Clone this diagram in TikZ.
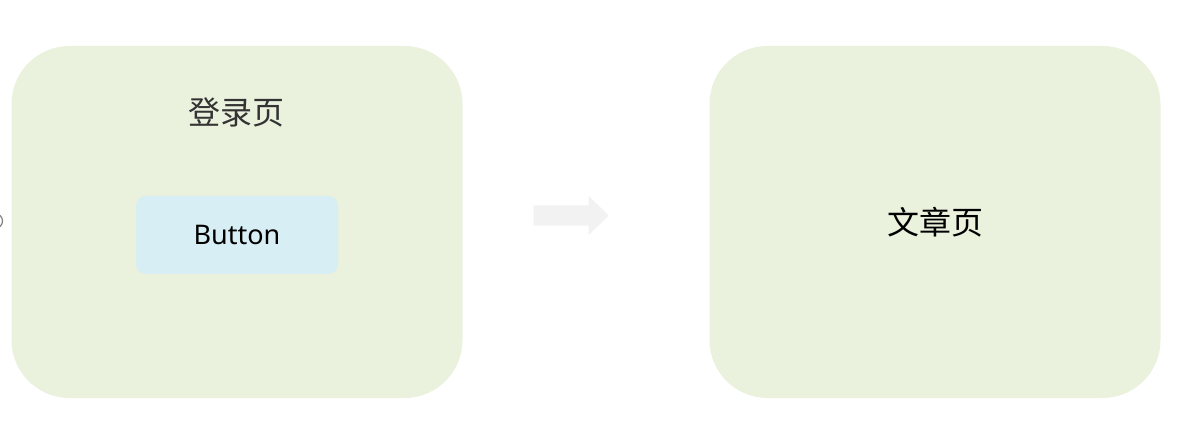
\documentclass[tikz,border=0pt]{standalone}
\usepackage{fontspec}
\setmainfont{Noto Sans}
\newfontfamily\cjk{Noto Sans CJK SC}
\usepackage{xcolor}
\usepackage{tikz}
\usetikzlibrary{shapes,arrows,positioning}
\definecolor{pagegreen}{RGB}{234,241,221}
\definecolor{buttonblue}{RGB}{214,238,244}
\definecolor{arrowgray}{RGB}{242,242,242}
\tikzset{page-node/.style={fill=pagegreen,rounded corners=58pt,minimum width=451pt,minimum height=352pt,inner sep=0pt}}
\tikzset{button-node/.style={fill=buttonblue,rounded corners=10pt,minimum width=202pt,minimum height=78pt,font=\fontsize{27}{32}\selectfont}}
\tikzset{title-node/.style={font=\cjk\fontsize{32}{37}\selectfont}}

\begin{document}
\begin{tikzpicture}[x=1pt,y=1pt]
            \useasboundingbox (0,0) rectangle (1180,442);
            \node [page-node] (login) at (237, 220) {};
            \node [page-node] (article) at (935, 220) {};
            \node [title-node, text=black!80] (login-title) at (236, 330) {登录页};
            \node [button-node] (button) at (237, 207) {Button};
            \node [title-node] (article-title) at (article.center) {文章页};

            \node [single arrow, fill=arrowgray, inner sep=0pt, inner ysep=10pt,
                   minimum height=75pt, single arrow head extend=9.5pt,
                   single arrow tip angle=89] (goto) at (566, 226.5) {};

            \node [draw=gray, line width=1.2pt, circle, minimum size=15pt, inner sep=0pt] (entry) at (-5, 221) {};
        \end{tikzpicture}
\end{document}
